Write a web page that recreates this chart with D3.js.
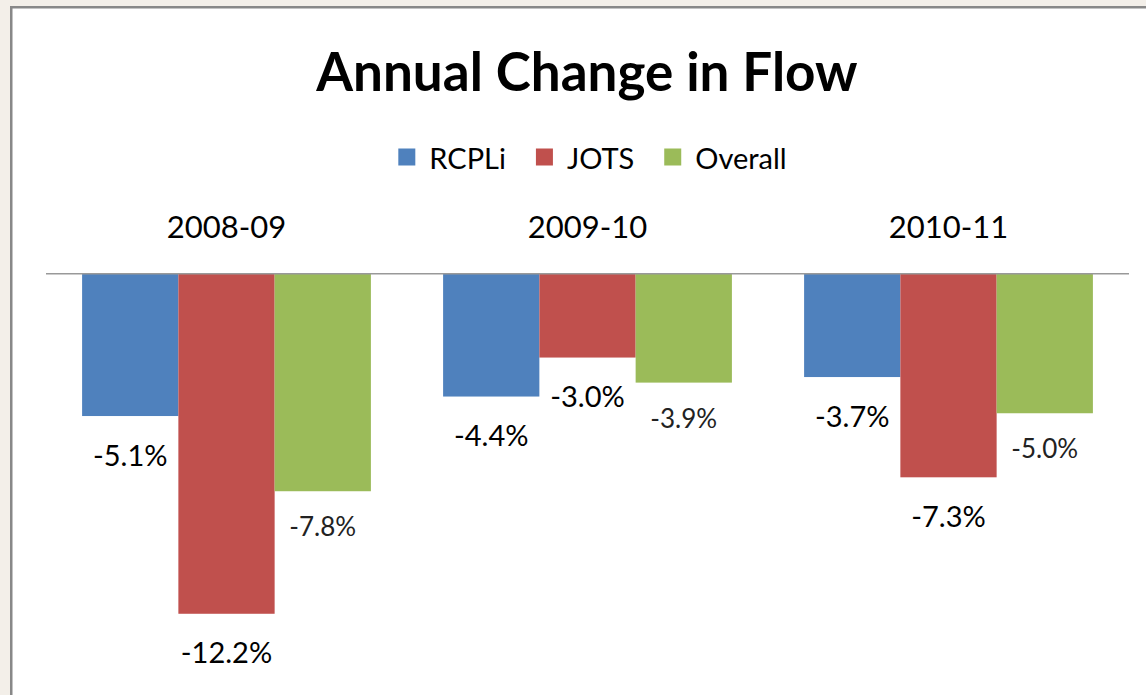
<!DOCTYPE html>
<html>
<head>
<meta charset="utf-8">
<script src="https://cdn.jsdelivr.net/npm/d3@7"></script>
<style>
  html, body { margin: 0; padding: 0; background: #f3efe9; }
  svg { display: block; font-family: Lato, "Open Sans", sans-serif; }
</style>
</head>
<body>
<script>
const periods = ["2008-09", "2009-10", "2010-11"];
const seriesNames = ["RCPLi", "JOTS", "Overall"];
const colors = ["#4f81bd", "#c0504d", "#9bbb59"];
const rcpli = [-5.1, -4.4, -3.7];
const jots = [-12.2, -3.0, -7.3];
const overall = [-7.8, -3.9, -5.0];
// the Overall labels in the original are drawn a little smaller
const labelSmall = [false, false, true];

const width = 1146;
const height = 695;

const values = [rcpli, jots, overall];
const data = [];
periods.forEach((p, i) => {
  seriesNames.forEach((s, j) => {
    data.push({ period: p, series: s, si: j, value: values[j][i], small: labelSmall[j] });
  });
});

const svg = d3.create("svg")
  .attr("width", width)
  .attr("height", height);

document.body.appendChild(svg.node());

// chart frame
svg.append("rect")
  .attr("x", 11.25).attr("y", 7.25)
  .attr("width", width).attr("height", height)
  .attr("fill", "#fff")
  .attr("stroke", "#888")
  .attr("stroke-width", 2.5);

const x0 = d3.scaleBand(periods, [46, 1129])
  .paddingInner(0.2)
  .paddingOuter(0.1);
const x1 = d3.scaleBand(seriesNames, [0, x0.bandwidth()]);
const y = d3.scaleLinear([0, -13], [274, 274 + 13 * 27.85]);

svg.append("text")
  .attr("x", 587).attr("y", 70)
  .attr("text-anchor", "middle")
  .attr("dominant-baseline", "central")
  .attr("font-size", 53)
  .attr("font-weight", "bold")
  .text("Annual Change in Flow");

// legend: square, label, then next item
const legend = svg.append("g");
let cur = 0;
seriesNames.forEach((s, i) => {
  const g = legend.append("g").attr("transform", `translate(${cur},0)`);
  g.append("rect")
    .attr("x", 0).attr("y", -8.5)
    .attr("width", 17).attr("height", 17)
    .attr("fill", colors[i]);
  const t = g.append("text")
    .attr("x", 31).attr("y", 0)
    .attr("dominant-baseline", "central")
    .attr("font-size", 29)
    .text(s);
  cur += 31 + t.node().getComputedTextLength() + 30;
});
const legendWidth = cur - 30;
legend.attr("transform", `translate(${592.5 - legendWidth / 2},157)`);

// category labels above the axis
svg.append("g")
  .selectAll("text")
  .data(periods)
  .join("text")
  .attr("x", (d) => x0(d) + x0.bandwidth() / 2)
  .attr("y", 226)
  .attr("text-anchor", "middle")
  .attr("dominant-baseline", "central")
  .attr("font-size", 31)
  .text((d) => d);

// bars
svg.append("g")
  .selectAll("rect")
  .data(data)
  .join("rect")
  .attr("x", (d) => x0(d.period) + x1(d.series))
  .attr("y", y(0))
  .attr("width", x1.bandwidth())
  .attr("height", (d) => y(d.value) - y(0))
  .attr("fill", (d) => colors[d.si]);

// zero line
svg.append("line")
  .attr("x1", 46).attr("x2", 1129)
  .attr("y1", 273.75).attr("y2", 273.75)
  .attr("stroke", "#999")
  .attr("stroke-width", 1.5);

// value labels
svg.append("g")
  .selectAll("text")
  .data(data)
  .join("text")
  .attr("x", (d) => x0(d.period) + x1(d.series) + x1.bandwidth() / 2)
  .attr("y", (d) => y(d.value) + (d.small ? 35 : 38))
  .attr("text-anchor", "middle")
  .attr("dominant-baseline", "central")
  .attr("font-size", (d) => (d.small ? 26 : 29))
  .attr("fill", (d) => (d.small ? "#222" : "#000"))
  .text((d) => d.value.toFixed(1) + "%");
</script>
</body>
</html>
